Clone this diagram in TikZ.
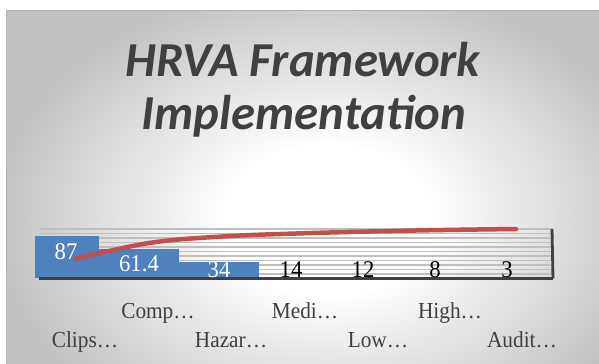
\documentclass[tikz,border=0pt]{standalone}
\usepackage{fontspec}
\setmainfont{Liberation Serif}
\newfontfamily\titlefont{Carlito}
\definecolor{barblue}{HTML}{4F81BD}
\definecolor{linered}{HTML}{C0504D}
\definecolor{txtgray}{HTML}{404040}
\pgfdeclareradialshading{bgshade}{\pgfpoint{0bp}{0bp}}{color(0bp)=(white); color(8bp)=(white); color(26bp)=(gray!48); color(50bp)=(gray!48)}
\tikzset{
  titletext/.style={font=\titlefont\fontsize{49}{49}\selectfont\bfseries\itshape, text=txtgray, anchor=base, inner sep=0pt},
  cattext/.style={font=\fontsize{23}{23}\selectfont, text=txtgray, anchor=base, inner sep=0pt, xscale=0.93},
  valtext/.style={font=\fontsize{24}{24}\selectfont, anchor=base, inner sep=0pt, xscale=0.95},
  barbox/.style={fill=barblue, draw=none},
  gridline/.style={draw=gray!50, line width=1.2bp},
  axisline/.style={draw=txtgray, line width=2.8bp},
  trendline/.style={draw=linered, line width=4.5bp, line cap=round, line join=round}
}
\begin{document}
\begin{tikzpicture}[x=1bp, y=-1bp]
\useasboundingbox (0,0) rectangle (599,363);
\fill[white] (0,0) rectangle (599,363);
\begin{scope}
\clip (6,10) rectangle (599,363);
\shade[shading=bgshade] (6,-10) rectangle (650,450);
\end{scope}
\draw[gray!62, line width=1bp] (6,363) -- (6,10.5) -- (599,10.5);
% title
\node[titletext] (t1) at (303,76) {HRVA Framework};
\node[titletext] (t2) at (304,129) {Implementation};
% gridlines
\foreach \yy in {229,233.5,238,242.5,247,251.5,256,260.5,265,269.5,274}
  \draw[gridline] (39,\yy) -- (552,\yy);
% bars
\path[barbox] (35,236) rectangle (99,278);
\path[barbox] (99,249) rectangle (179,278);
\path[barbox] (179,262) rectangle (259,278);
% axes
\coordinate (axl) at (39,278.5);
\coordinate (axr) at (553,278.5);
\coordinate (axt) at (552,229);
\draw[axisline] (axl) -- (axr);
\draw[axisline] (axr) -- (axt);
% trend line
\coordinate (p1) at (75,259);
\coordinate (p2) at (149,243);
\coordinate (p3) at (222,236.5);
\coordinate (p4) at (296,233.5);
\coordinate (p5) at (369,231.5);
\coordinate (p6) at (443,230);
\coordinate (p7) at (516,229);
\draw[trendline] plot[smooth, tension=0.6] coordinates {(p1) (p2) (p3) (p4) (p5) (p6) (p7)};
% values
\node[valtext, text=white] (v1) at (66,259) {87};
\node[valtext, text=white] (v2) at (139,271) {61.4};
\node[valtext, text=white] (v3) at (219,277) {34};
\node[valtext, text=black] (v4) at (291,277) {14};
\node[valtext, text=black] (v5) at (363,277) {12};
\node[valtext, text=black] (v6) at (435,277) {8};
\node[valtext, text=black] (v7) at (507,277) {3};
% categories
\node[cattext] (c2) at (158,318) {Comp\dots};
\node[cattext] (c4) at (305,318) {Medi\dots};
\node[cattext] (c6) at (450,318) {High\dots};
\node[cattext] (c1) at (85,347) {Clips\dots};
\node[cattext] (c3) at (231,347) {Hazar\dots};
\node[cattext] (c5) at (378,347) {Low\dots};
\node[cattext] (c7) at (522,347) {Audit\dots};
\end{tikzpicture}
\end{document}
